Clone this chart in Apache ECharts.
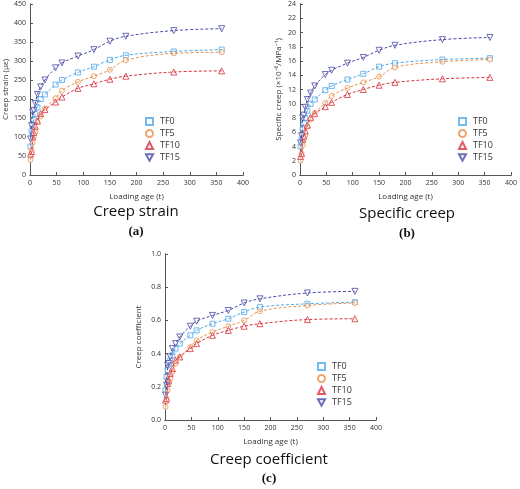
<!DOCTYPE html><html><head><meta charset="utf-8">
<script src="https://cdn.jsdelivr.net/npm/echarts@6/dist/echarts.min.js"></script>
<style>html,body{margin:0;background:#fff}#c{width:520px;height:489px}</style></head><body><div id="c"></div>
<script>
const ages=[1,3,5,7,10,14,20,28,48,60,90,120,150,180,270,360];
const names=['TF0','TF5','TF10','TF15'];
const strainTF0=[75,115,130,145,160,178,200,212,238,250,270,285,303,315,325,330];
const strainTF5=[40,65,85,100,113,140,155,175,202,222,245,260,277,302,320,323];
const strainTF10=[55,62,100,112,128,142,162,172,192,205,228,240,252,260,271,274];
const strainTF15=[95,130,165,170,188,212,232,250,282,295,313,330,352,365,380,385];
const specTF0=[4,5,6.5,7.3,8,9,10,10.6,11.9,12.5,13.4,14.2,15.2,15.7,16.2,16.4];
const specTF5=[2,3,4.2,5,5.6,6.8,7.8,8.7,10.1,11.1,12.2,13,13.8,15.1,15.9,16.2];
const specTF10=[2.6,3.0,5,5.5,6.2,7,8.1,8.6,9.6,10.2,11.3,12,12.6,13,13.5,13.7];
const specTF15=[4.5,5.5,8,8.4,9.5,10.6,11.5,12.5,14.1,14.7,15.7,16.5,17.5,18.2,19,19.3];
const coefTF0=[0.18,0.26,0.3,0.34,0.36,0.39,0.43,0.46,0.51,0.54,0.58,0.61,0.65,0.68,0.70,0.71];
const coefTF5=[0.08,0.13,0.18,0.22,0.25,0.29,0.34,0.38,0.44,0.48,0.53,0.565,0.60,0.655,0.69,0.705];
const coefTF10=[0.12,0.13,0.22,0.24,0.28,0.31,0.36,0.38,0.43,0.46,0.51,0.54,0.565,0.58,0.605,0.61];
const coefTF15=[0.15,0.21,0.33,0.34,0.38,0.43,0.46,0.50,0.565,0.595,0.63,0.66,0.705,0.73,0.765,0.775];

const colors=['#4fa8ea','#e8904a','#d8323e','#4a4aa6'];
const symbols=['rect','circle','triangle','path://M0,0 L10,0 L5,9 Z'];
const panels=[
 {data:[strainTF0,strainTF5,strainTF10,strainTF15],max:450,interval:50,yname:'Creep strain (με)',grid:{left:30,top:4,width:213,height:171},legTop:112,legLeft:140},
 {data:[specTF0,specTF5,specTF10,specTF15],max:24,interval:2,yname:'Specific creep (×10⁻⁶/MPa⁻¹)',grid:{left:300,top:4,width:213,height:171},legTop:112,legLeft:453},
 {data:[coefTF0,coefTF5,coefTF10,coefTF15],max:1.0,interval:0.2,yname:'Creep coefficient',grid:{left:165,top:254,width:211,height:166},legTop:357,legLeft:312}
];
const font='Open Sans';
const opt={animation:false,textStyle:{fontFamily:font},grid:[],xAxis:[],yAxis:[],series:[],legend:[],graphic:[]};
panels.forEach((p,i)=>{
 opt.grid.push(p.grid);
 const axl={lineStyle:{color:'#555',width:1}};
 opt.xAxis.push({gridIndex:i,type:'value',min:0,max:400,interval:50,name:'Loading age (t)',nameLocation:'middle',nameGap:18,nameTextStyle:{fontSize:8,color:'#333'},axisLine:axl,axisTick:{inside:true,length:3,lineStyle:{color:'#555'}},axisLabel:{fontSize:7,color:'#333',margin:4},splitLine:{show:false}});
 opt.yAxis.push({gridIndex:i,type:'value',min:0,max:p.max,interval:p.interval,name:p.yname,nameLocation:'middle',nameRotate:90,nameGap:i==1?17:(i==0?20:22),nameTextStyle:{fontSize:8,color:'#333'},axisLine:axl,axisTick:{inside:true,length:3,lineStyle:{color:'#555'}},axisLabel:{fontSize:7,color:'#333',margin:4,formatter:v=>i==2?v.toFixed(1):v},splitLine:{show:false}});
 opt.xAxis.push({gridIndex:i,type:'value',position:'top',min:0,max:400,axisLine:axl,axisTick:{show:false},axisLabel:{show:false},splitLine:{show:false}});
 opt.yAxis.push({gridIndex:i,type:'value',position:'right',min:0,max:p.max,axisLine:axl,axisTick:{show:false},axisLabel:{show:false},splitLine:{show:false}});
 p.data.forEach((d,k)=>{
  const pts=ages.map((a,j)=>[a,d[j]]);
  opt.series.push({type:'line',name:'fit'+k,xAxisIndex:2*i,yAxisIndex:2*i,data:pts,smooth:0.4,showSymbol:false,lineStyle:{type:[3,2],width:1,color:colors[k]},silent:true});
  opt.series.push({type:'scatter',name:names[k],xAxisIndex:2*i,yAxisIndex:2*i,data:pts,symbol:symbols[k],symbolSize:k==1?5:(k==0?5:6),itemStyle:{color:'#fff',borderColor:colors[k],borderWidth:1}});
 });
 opt.legend.push({data:names,orient:'vertical',left:p.legLeft,top:p.legTop,itemGap:3,itemWidth:7,itemHeight:7,textStyle:{fontSize:9,color:'#333',padding:[0,0,0,2]}});
});
const caps=[['Creep strain','(a)',136,212,232],['Specific creep','(b)',407,214,234],['Creep coefficient','(c)',269,460,479]];
caps.forEach(c=>{
 opt.graphic.push({type:'text',x:c[2],y:c[3],style:{text:c[0],font:'15px "Open Sans"',fill:'#111',align:'center',verticalAlign:'middle'}});
 opt.graphic.push({type:'text',x:c[2],y:c[4],style:{text:c[1],font:'bold 13px "Liberation Serif"',fill:'#111',align:'center',verticalAlign:'middle'}});
});
echarts.init(document.getElementById('c')).setOption(opt);
</script></body></html>
